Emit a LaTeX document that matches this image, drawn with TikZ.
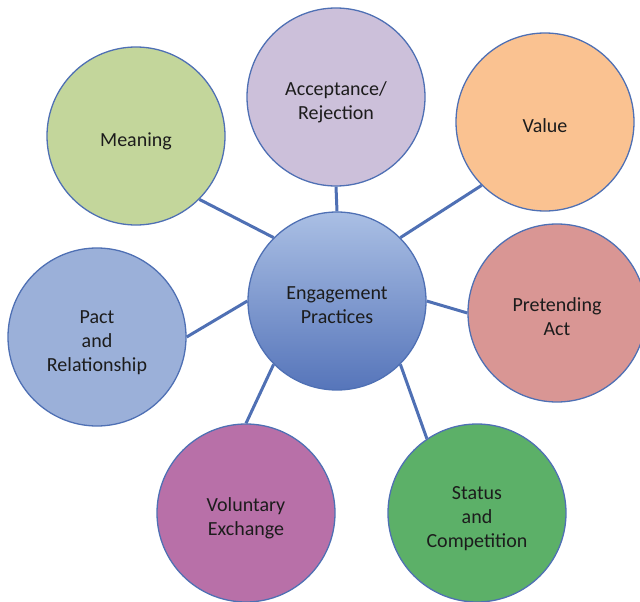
\documentclass[tikz,border=0pt]{standalone}
\usepackage{fontspec}
\setmainfont{Carlito}
\usetikzlibrary{shadings}
\pgfdeclarelayer{background}
\pgfsetlayers{background,main}
\definecolor{rim}{HTML}{4F70B4}
\definecolor{ink}{HTML}{1C1C1C}
\definecolor{cMeaning}{HTML}{C3D69B}
\definecolor{cAccept}{HTML}{CCC0DA}
\definecolor{cValue}{HTML}{FAC291}
\definecolor{cPretend}{HTML}{D99694}
\definecolor{cPact}{HTML}{9BB0D9}
\definecolor{cVoluntary}{HTML}{B870A8}
\definecolor{cStatus}{HTML}{5CB068}
\definecolor{hubTop}{HTML}{AABFE4}
\definecolor{hubBottom}{HTML}{5675BA}
% centred stack of lines, set a little below the circle's middle
\newcommand\bubbletext[1]{\raisebox{-6pt}[\height][\depth]{\begin{tabular}{@{}c@{}}#1\end{tabular}}}
\tikzset{
  bubble/.style={circle, draw=rim, line width=1.3pt, minimum size=178pt,
    inner sep=0pt, align=center, text=ink, font=\fontsize{20}{24}\selectfont},
  spoke/.style={draw=rim, line width=3pt}
}
\begin{document}
\begin{tikzpicture}[x=1pt, y=-1pt]
\useasboundingbox (0,0) rectangle (640,602);
% central hub
\node[bubble, top color=hubTop, bottom color=hubBottom] (hub) at (337,301) {\bubbletext{Engagement\\Practices}};
% surrounding practices
\node[bubble, fill=cMeaning]   (meaning)   at (136,136) {\bubbletext{Meaning}};
\node[bubble, fill=cAccept]    (accept)    at (336,97)  {\bubbletext{Acceptance/\\Rejection}};
\node[bubble, fill=cValue]     (value)     at (545,122) {\bubbletext{Value}};
\node[bubble, fill=cPretend]   (pretend)   at (557,313) {\bubbletext{Pretending\\Act}};
\node[bubble, fill=cPact]      (pact)      at (97,337)  {\bubbletext{Pact\\and\\Relationship}};
\node[bubble, fill=cVoluntary] (voluntary) at (246,513) {\bubbletext{Voluntary\\Exchange}};
\node[bubble, fill=cStatus]    (status)    at (477,513) {\bubbletext{Status\\and\\Competition}};
% spokes, drawn underneath the circles
\begin{pgfonlayer}{background}
\draw[spoke] (hub.north)      -- (accept.south);
\draw[spoke] (hub.north west) -- (meaning.south east);
\draw[spoke] (hub.north east) -- (value.south west);
\draw[spoke] (hub.east)       -- (pretend.west);
\draw[spoke] (hub.west)       -- (pact.east);
\draw[spoke] (hub.south west) -- (voluntary.north);
\draw[spoke] (hub.south east) -- (status.124);
\end{pgfonlayer}
\end{tikzpicture}
\end{document}
